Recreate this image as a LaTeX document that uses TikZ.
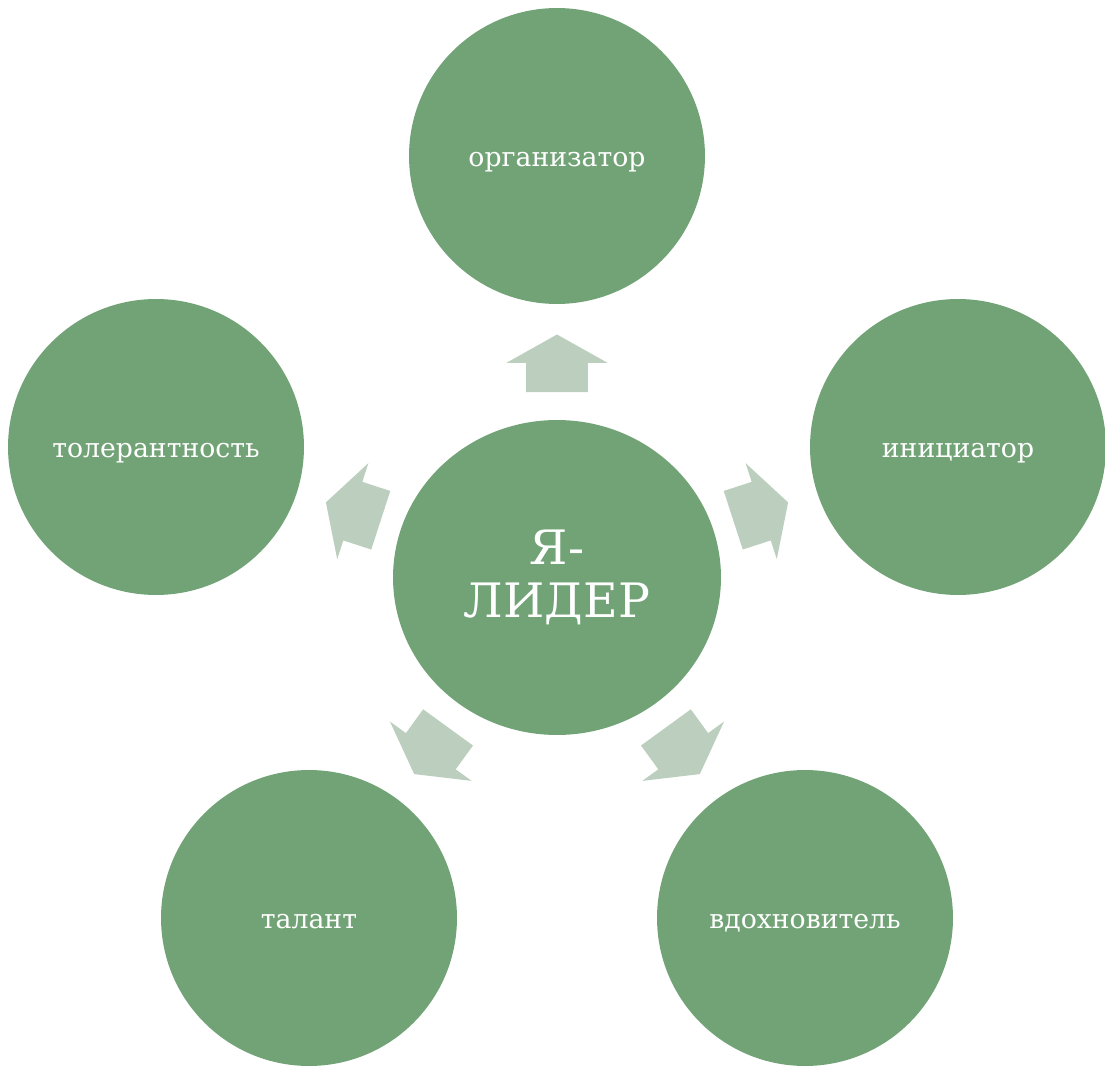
\documentclass[tikz,border=0pt]{standalone}
\usepackage{fontspec}
\setmainfont{DejaVu Serif}
\usetikzlibrary{shapes.geometric}

\definecolor{kreisgruen}{HTML}{72A376}
\definecolor{pfeilgruen}{HTML}{BCCFBF}

\tikzset{
	kreis/.style={circle, fill=kreisgruen, minimum size=5.92cm, inner sep=0pt, text=white, text height=11.4pt, text depth=0pt, font=\fontsize{15.2}{18}\selectfont},
	mitte/.style={ellipse, fill=kreisgruen, minimum width=6.56cm, minimum height=6.3cm, inner sep=0pt, text=white, align=center, font=\fontsize{27}{30.6}\selectfont},
	pfeil/.style={fill=pfeilgruen}
}

\begin{document}
\begin{tikzpicture}[x=0.02cm, y=-0.02cm]
	\useasboundingbox (0,0) rectangle (1105,1067); % Rand um Grafik
	
	\node[mitte] (ich) at (557,577.5) {Я-\\ЛИДЕР};
	
	\node[kreis] (org) at (557,156) {организатор};
	\node[kreis] (ini) at (958,447) {инициатор};
	\node[kreis] (vdo) at (805,918) {вдохновитель};
	\node[kreis] (tal) at (309,918) {талант};
	\node[kreis] (tol) at (156,447) {толерантность};
	
	% Pfeile nach aussen
	\foreach \w in {90,18,-54,-126,162}
		\fill[pfeil, shift={(ich.center)}, x=0.02cm, y=0.02cm, rotate=\w-90]
			(0,243) -- (-50.5,214.7) -- (-30.8,214.7) -- (-30.8,185.3)
			-- (30.8,185.3) -- (30.8,214.7) -- (50.5,214.7) -- cycle;
	
	%\draw[help lines, step=100] (0,0) grid (1105,1067);
\end{tikzpicture}
\end{document}
